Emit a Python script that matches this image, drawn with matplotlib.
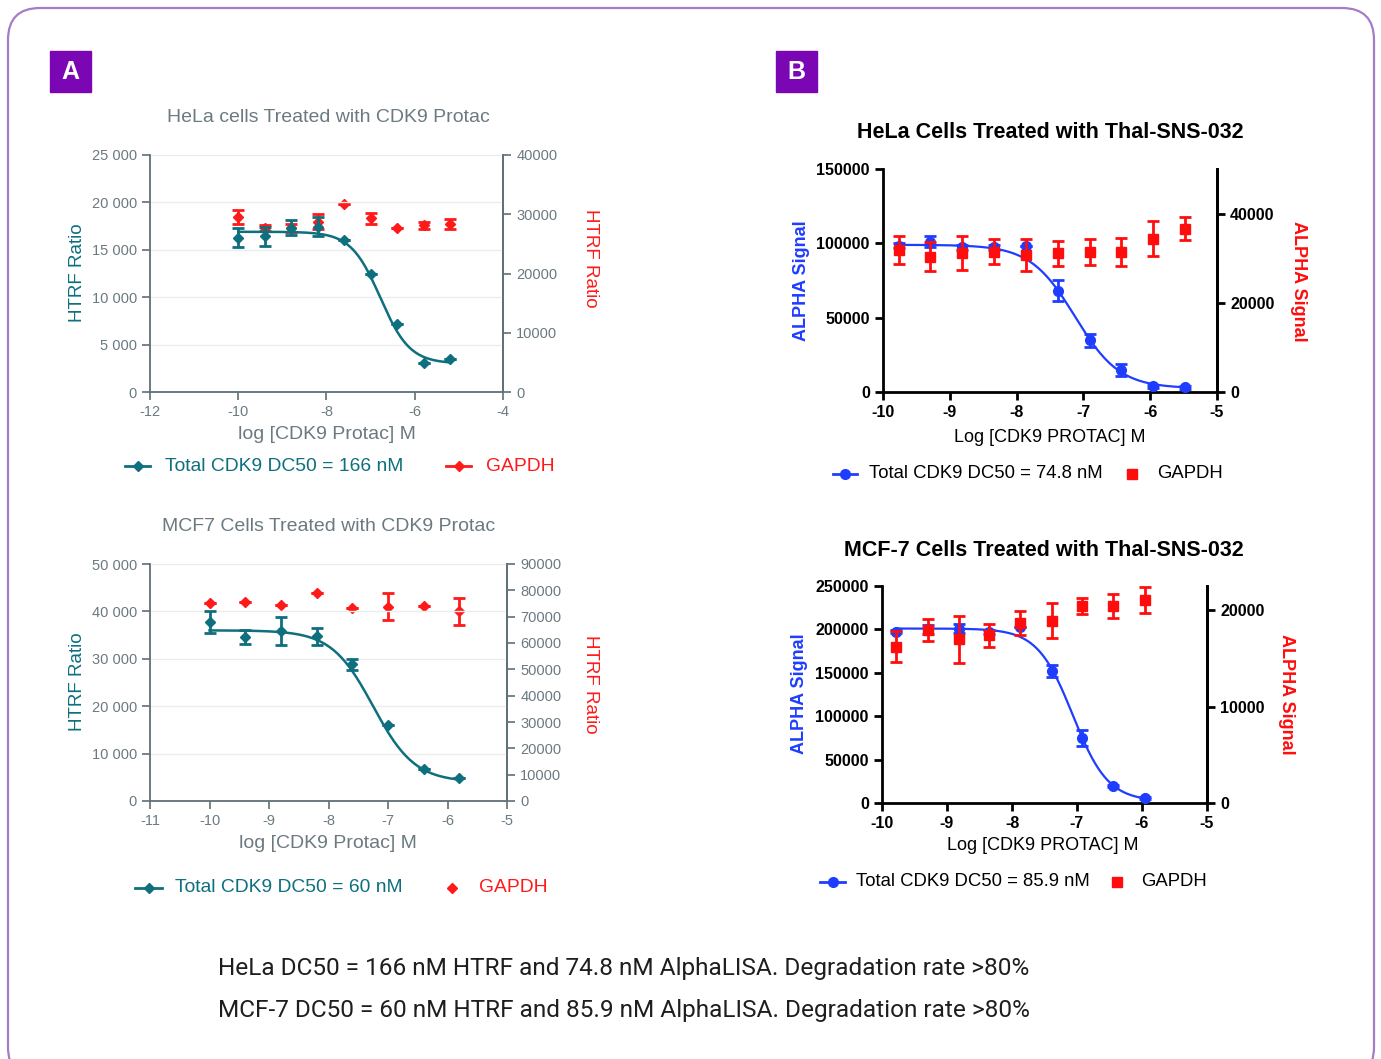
import numpy as np
import matplotlib
matplotlib.use("Agg")
import matplotlib.pyplot as plt
from matplotlib.lines import Line2D
from matplotlib.patches import FancyBboxPatch, Rectangle
from matplotlib.transforms import IdentityTransform

plt.rcParams["axes.unicode_minus"] = False

# ---- data ----
# A top: HeLa, HTRF
hela_htrf_x = [-10.0, -9.4, -8.8, -8.2, -7.6, -7.0, -6.4, -5.8, -5.2]
hela_htrf_cdk9 = [16270, 16410, 17320, 17430, 16020, 12500, 7150, 3060, 3450]
hela_htrf_cdk9_err = [1000, 1000, 800, 1000, 0, 0, 0, 0, 0]
hela_htrf_gapdh = [29580, 27720, 27720, 28730, 31720, 29300, 27720, 28170, 28340]
hela_htrf_gapdh_err = [1200, 500, 700, 1300, 0, 900, 0, 600, 900]
hela_htrf_fit = dict(top=16900, bottom=3000, logdc50=-6.78, hill=1.3)

# A bottom: MCF7, HTRF
mcf7_htrf_x = [-10.0, -9.4, -8.8, -8.2, -7.6, -7.0, -6.4, -5.8]
mcf7_htrf_cdk9 = [37820, 34650, 35920, 34720, 28870, 15990, 6830, 4930]
mcf7_htrf_cdk9_err = [2350, 1500, 3000, 1800, 1150, 0, 0, 0]
mcf7_htrf_gapdh = [75040, 75680, 74280, 78970, 73390, 73780, 74160, 72000]
mcf7_htrf_gapdh_err = [0, 0, 0, 0, 0, 5200, 0, 5070]
mcf7_htrf_fit = dict(top=36000, bottom=4000, logdc50=-7.25, hill=1.24)

# B top: HeLa, AlphaLISA
hela_alpha_x = [-9.76, -9.29, -8.81, -8.34, -7.86, -7.38, -6.90, -6.43, -5.96, -5.48]
hela_alpha_cdk9 = [98430, 101120, 97310, 97310, 98430, 68160, 34750, 15020, 3810, 3140]
hela_alpha_cdk9_err = [1500, 3600, 1500, 1500, 0, 7000, 4500, 4000, 1000, 800]
hela_alpha_gapdh = [31810, 30320, 31210, 31430, 30690, 31060, 31430, 31430, 34410, 36650]
hela_alpha_gapdh_err = [3170, 3280, 3800, 2800, 3650, 2830, 2870, 3200, 3900, 2530]
hela_alpha_fit = dict(top=99000, bottom=2500, logdc50=-7.126, hill=1.3)

# B bottom: MCF-7, AlphaLISA
mcf7_alpha_x = [-9.78, -9.30, -8.82, -8.35, -7.87, -7.39, -6.92, -6.44, -5.96]
mcf7_alpha_cdk9 = [197470, 200150, 200920, 197090, 202450, 152220, 74770, 19170, 5750]
mcf7_alpha_cdk9_err = [1500, 5200, 5500, 2000, 0, 6700, 9600, 1000, 800]
mcf7_alpha_gapdh = [16210, 17930, 16970, 17410, 18690, 18900, 20410, 20410, 21030]
mcf7_alpha_gapdh_err = [1600, 1100, 2460, 1200, 1260, 1840, 800, 1260, 1340]
mcf7_alpha_fit = dict(top=201000, bottom=2000, logdc50=-7.066, hill=1.6)

# ---- styling ----
W, H = 1381, 1059
TEAL = "#0e6f7e"
RED_A = "#ff1a1a"
GRAYTXT = "#6b7a80"
AXGRAY = "#5f7077"
BLUE = "#1f3dff"
RED_B = "#ff0d0d"
PURPLE = "#7b06b3"
FONT_A = "Liberation Sans"
FONT_B = "Liberation Sans"

fig = plt.figure(figsize=(W / 100, H / 100), dpi=100)
fig.patch.set_facecolor("white")


def box(x0, y0, x1, y1):
    return [x0 / W, 1 - y1 / H, (x1 - x0) / W, (y1 - y0) / H]


def fx(x):
    return x / W


def fy(y):
    return 1 - y / H


def fit_curve(x0, x1, top, bottom, logdc50, hill):
    xs = np.linspace(x0, x1, 200)
    ys = bottom + (top - bottom) / (1 + 10 ** ((xs - logdc50) * hill))
    return xs, ys


def ftext(x, y, s, **kw):
    fig.text(fx(x), fy(y), s, **kw)


def legend_line(x0, x1, y, color, marker, ms):
    fig.add_artist(Line2D([fx(x0), fx(x1)], [fy(y), fy(y)], color=color, lw=2,
                          transform=fig.transFigure))
    fig.add_artist(Line2D([fx((x0 + x1) / 2)], [fy(y)], color=color, marker=marker,
                          ms=ms, transform=fig.transFigure, lw=0))


def legend_marker(x, y, color, marker, ms):
    fig.add_artist(Line2D([fx(x)], [fy(y)], color=color, marker=marker, ms=ms, lw=0,
                          transform=fig.transFigure))


def htrf_panel(rect, x, cdk9, cdk9_err, gapdh, gapdh_err, fit, xlim, ylim, yticks,
               yticklabels, ylim2, yticks2):
    ax = fig.add_axes(box(*rect))
    ax2 = ax.twinx()
    ax.set_zorder(ax2.get_zorder() + 1)
    ax.patch.set_visible(False)

    xs, ys = fit_curve(x[0], x[-1], **fit)
    ax.plot(xs, ys, color=TEAL, lw=1.8, zorder=3)
    ax.errorbar(x, cdk9, yerr=cdk9_err, fmt="D", color=TEAL, ms=5.5, capsize=4,
                elinewidth=2, capthick=2, zorder=4)
    ax2.errorbar(x, gapdh, yerr=gapdh_err, fmt="D", color=RED_A, ms=5.5, capsize=4,
                 elinewidth=2, capthick=2)

    ax.set_xlim(*xlim)
    ax.set_ylim(*ylim)
    ax.set_xticks(np.arange(xlim[0], xlim[1] + 1, 1 if xlim[1] - xlim[0] < 7 else 2))
    ax.set_yticks(yticks)
    ax.set_yticklabels(yticklabels)
    ax2.set_ylim(*ylim2)
    ax2.set_yticks(yticks2)
    ax.grid(axis="y", color="#ececec", lw=1)
    ax.set_axisbelow(True)
    for a in (ax, ax2):
        a.spines["top"].set_visible(False)
        for s in ("left", "right", "bottom"):
            a.spines[s].set_color(AXGRAY)
            a.spines[s].set_linewidth(1.3)
        a.tick_params(colors=AXGRAY, labelcolor=GRAYTXT, labelsize=10.5, length=6,
                      width=1.2, direction="out")
        for lab in a.get_xticklabels() + a.get_yticklabels():
            lab.set_family(FONT_A)
    ax2.spines["left"].set_visible(False)
    ax2.spines["bottom"].set_visible(False)
    return ax, ax2


def alpha_panel(rect, x, cdk9, cdk9_err, gapdh, gapdh_err, fit, ylim, yticks, ylim2,
                yticks2):
    ax = fig.add_axes(box(*rect))
    ax2 = ax.twinx()
    xs, ys = fit_curve(x[0], x[-1], **fit)
    ax.plot(xs, ys, color=BLUE, lw=1.6, zorder=3)
    ax.errorbar(x, cdk9, yerr=cdk9_err, fmt="o", color=BLUE, ms=7, capsize=4,
                elinewidth=2, capthick=2, zorder=4)
    ax2.errorbar(x, gapdh, yerr=gapdh_err, fmt="s", color=RED_B, ms=6.5, capsize=4,
                 elinewidth=2, capthick=2)
    ax.set_xlim(-10, -5)
    ax.set_xticks([-10, -9, -8, -7, -6, -5])
    ax.set_ylim(*ylim)
    ax.set_yticks(yticks)
    ax2.set_ylim(*ylim2)
    ax2.set_yticks(yticks2)
    for a in (ax, ax2):
        a.spines["top"].set_visible(False)
        for s in ("left", "right", "bottom"):
            a.spines[s].set_color("black")
            a.spines[s].set_linewidth(2)
        a.tick_params(colors="black", labelsize=11.5, length=6, width=2, direction="out")
        for lab in a.get_xticklabels() + a.get_yticklabels():
            lab.set_family(FONT_B)
            lab.set_fontweight("bold")
    ax2.spines["left"].set_visible(False)
    ax2.spines["bottom"].set_visible(False)
    return ax, ax2


# ---- panel A top ----
htrf_panel((150, 155, 503, 392), hela_htrf_x, hela_htrf_cdk9, hela_htrf_cdk9_err,
           hela_htrf_gapdh, hela_htrf_gapdh_err, hela_htrf_fit, (-12, -4), (0, 25000),
           [0, 5000, 10000, 15000, 20000, 25000],
           ["0", "5 000", "10 000", "15 000", "20 000", "25 000"],
           (0, 40000), [0, 10000, 20000, 30000, 40000])
ftext(328, 118, "HeLa cells Treated with CDK9 Protac", ha="center", va="center",
      color=GRAYTXT, fontsize=14, family=FONT_A)
ftext(77, 273, "HTRF Ratio", ha="center", va="center", rotation=90, color=TEAL,
      fontsize=13.5, family=FONT_A)
ftext(591, 258, "HTRF Ratio", ha="center", va="center", rotation=270, color=RED_A,
      fontsize=13.5, family=FONT_A)
ftext(327, 434, "log [CDK9 Protac] M", ha="center", va="center", color=GRAYTXT,
      fontsize=14, family=FONT_A)
legend_line(125, 150, 466, TEAL, "D", 5)
ftext(165, 466, "Total CDK9 DC50 = 166 nM", va="center", color=TEAL, fontsize=13.9,
      family=FONT_A)
legend_line(446, 471, 466, RED_A, "D", 5)
ftext(486, 466, "GAPDH", va="center", color=RED_A, fontsize=13.9, family=FONT_A)

# ---- panel A bottom ----
htrf_panel((150, 564, 507, 801), mcf7_htrf_x, mcf7_htrf_cdk9, mcf7_htrf_cdk9_err,
           mcf7_htrf_gapdh, mcf7_htrf_gapdh_err, mcf7_htrf_fit, (-11, -5), (0, 50000),
           [0, 10000, 20000, 30000, 40000, 50000],
           ["0", "10 000", "20 000", "30 000", "40 000", "50 000"],
           (0, 90000), list(range(0, 90001, 10000)))
ftext(329, 527, "MCF7 Cells Treated with CDK9 Protac", ha="center", va="center",
      color=GRAYTXT, fontsize=14, family=FONT_A)
ftext(77, 682, "HTRF Ratio", ha="center", va="center", rotation=90, color=TEAL,
      fontsize=13.5, family=FONT_A)
ftext(591, 684, "HTRF Ratio", ha="center", va="center", rotation=270, color=RED_A,
      fontsize=13.5, family=FONT_A)
ftext(328, 843, "log [CDK9 Protac] M", ha="center", va="center", color=GRAYTXT,
      fontsize=14, family=FONT_A)
legend_line(135, 162, 888, TEAL, "D", 5)
ftext(175, 888, "Total CDK9 DC50 = 60 nM", va="center", color=TEAL, fontsize=13.9,
      family=FONT_A)
legend_marker(452, 888, RED_A, "D", 5)
ftext(479, 888, "GAPDH", va="center", color=RED_A, fontsize=13.9, family=FONT_A)

# ---- panel B top ----
alpha_panel((883, 169, 1217, 392), hela_alpha_x, hela_alpha_cdk9, hela_alpha_cdk9_err,
            hela_alpha_gapdh, hela_alpha_gapdh_err, hela_alpha_fit, (0, 150000),
            [0, 50000, 100000, 150000], (0, 50000), [0, 20000, 40000])
ftext(1050, 133, "HeLa Cells Treated with Thal-SNS-032", ha="center", va="center",
      fontsize=15.5, fontweight="bold", family=FONT_B)
ftext(801, 281, "ALPHA Signal", ha="center", va="center", rotation=90, color=BLUE,
      fontsize=13, fontweight="bold", family=FONT_B)
ftext(1299, 281, "ALPHA Signal", ha="center", va="center", rotation=270, color=RED_B,
      fontsize=13, fontweight="bold", family=FONT_B)
ftext(1050, 437, "Log [CDK9 PROTAC] M", ha="center", va="center", fontsize=13,
      family=FONT_B)
legend_line(833, 857, 474, BLUE, "o", 7)
ftext(869, 474, "Total CDK9 DC50 = 74.8 nM", va="center", fontsize=13.3, family=FONT_B)
legend_marker(1132, 474, RED_B, "s", 6.5)
ftext(1157, 474, "GAPDH", va="center", fontsize=13.3, family=FONT_B)

# ---- panel B bottom ----
alpha_panel((882, 586, 1207, 803), mcf7_alpha_x, mcf7_alpha_cdk9, mcf7_alpha_cdk9_err,
            mcf7_alpha_gapdh, mcf7_alpha_gapdh_err, mcf7_alpha_fit, (0, 250000),
            [0, 50000, 100000, 150000, 200000, 250000], (0, 22500), [0, 10000, 20000])
ftext(1044, 550, "MCF-7 Cells Treated with Thal-SNS-032", ha="center", va="center",
      fontsize=15.5, fontweight="bold", family=FONT_B)
ftext(800, 694, "ALPHA Signal", ha="center", va="center", rotation=90, color=BLUE,
      fontsize=13, fontweight="bold", family=FONT_B)
ftext(1286, 694, "ALPHA Signal", ha="center", va="center", rotation=270, color=RED_B,
      fontsize=13, fontweight="bold", family=FONT_B)
ftext(1043, 846, "Log [CDK9 PROTAC] M", ha="center", va="center", fontsize=13,
      family=FONT_B)
legend_line(820, 845, 882, BLUE, "o", 7)
ftext(856, 882, "Total CDK9 DC50 = 85.9 nM", va="center", fontsize=13.3, family=FONT_B)
legend_marker(1117, 882, RED_B, "s", 6.5)
ftext(1141, 882, "GAPDH", va="center", fontsize=13.3, family=FONT_B)

# ---- panel letters ----
for (x0, lab) in [(50, "A"), (776, "B")]:
    fig.add_artist(Rectangle((x0, H - 92), 41, 41, color=PURPLE,
                             transform=IdentityTransform()))
    ftext(x0 + 20.5, 72, lab, ha="center", va="center", color="white", fontsize=18,
          fontweight="bold", family="Liberation Sans")

# ---- summary text ----
ftext(218, 969, "HeLa DC50 = 166 nM HTRF and 74.8 nM AlphaLISA. Degradation rate >80%",
      va="center", fontsize=17.6, color="#1e1e1e", family="Roboto")
ftext(218, 1011, "MCF-7 DC50 = 60 nM HTRF and 85.9 nM AlphaLISA. Degradation rate >80%",
      va="center", fontsize=17.6, color="#1e1e1e", family="Roboto")

# ---- outer rounded frame ----
fig.add_artist(FancyBboxPatch((8, -20), 1366, H - 8 + 20, boxstyle="round,pad=0,rounding_size=32",
                              fill=False, ec="#a67cc8", lw=1.6,
                              transform=IdentityTransform()))

fig.savefig("out.png", dpi=100, facecolor="white")
